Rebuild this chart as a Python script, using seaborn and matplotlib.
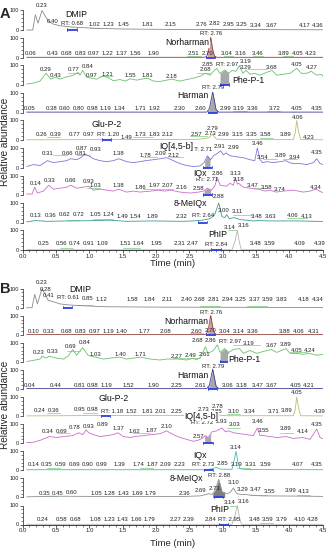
import numpy as np
import pandas as pd
import matplotlib
matplotlib.use("Agg")
import matplotlib.pyplot as plt
import seaborn as sns
from matplotlib.ticker import FixedLocator, MultipleLocator

sns.set_theme(style="ticks")
plt.rcParams["font.family"] = ["Liberation Sans", "DejaVu Sans"]

# ---------------- DATA ----------------
compounds = ["DMIP", "Norharman", "Phe-P-1", "Harman", "Glu-P-2",
             "IQ[4,5-b]", "IQx", "8-MeIQx", "PhIP"]
x_ticks = [0.0, 0.5, 1.0, 1.5, 2.0, 2.5, 3.0, 3.5, 4.0, 4.5]

# ---- Panel A ----
a1_trace = [(0.0, 0), (0.09, 0), (0.13, 78), (0.17, 35), (0.23, 100), (0.28, 70), (0.33, 45), (0.40, 30),
            (0.5, 22), (0.68, 15), (0.85, 12), (1.02, 9), (1.23, 7), (1.45, 5), (1.81, 4), (2.15, 3),
            (2.8, 3), (3.3, 2), (4.5, 1)]
a1_peaks = [(0.23, 124), (0.40, 43), (1.02, 27), (1.23, 26), (1.45, 26), (1.81, 26), (2.15, 26),
            (2.76, 30), (2.82, 31), (2.95, 28), (3.25, 27), (3.34, 25), (3.67, 25), (4.17, 24), (4.36, 24)]
a1_rt = (0.68, 31)
a1_green = [(0.95, 1.12, 8), (2.6, 2.85, 6), (2.9, 3.25, 6), (3.3, 3.62, 6)]

a2_trace = [(0.0, 1), (2.66, 1), (2.70, 5), (2.73, 40), (2.76, 103), (2.79, 40), (2.82, 5), (2.86, 1), (4.5, 1)]
a2_peaks = [(0.06, 20), (0.43, 20), (0.68, 20), (0.83, 20), (0.97, 20), (1.22, 20), (1.37, 20), (1.56, 20),
            (1.90, 20), (2.51, 20), (2.70, 20), (3.04, 20), (3.16, 20), (3.46, 20), (3.89, 20), (4.05, 20), (4.23, 20)]
a2_rt = (2.76, 123)
a2_green = [(2.40, 2.62, 9), (2.96, 3.10, 6), (3.40, 3.55, 6), (3.85, 4.0, 6)]

a3_trace = [(0.0, 5), (0.1, 10), (0.2, 20), (0.29, 60), (0.36, 30), (0.43, 40), (0.5, 30), (0.6, 42), (0.7, 50),
            (0.77, 65), (0.80, 50), (0.84, 75), (0.9, 40), (0.97, 35), (1.05, 30), (1.13, 45), (1.21, 40),
            (1.3, 22), (1.4, 28), (1.48, 20), (1.55, 32), (1.65, 25), (1.72, 30), (1.81, 35), (1.9, 20),
            (2.0, 18), (2.1, 25), (2.18, 30), (2.3, 20), (2.4, 28), (2.5, 35), (2.6, 45), (2.68, 60),
            (2.75, 50), (2.8, 70), (2.85, 85), (2.9, 60), (2.97, 78), (3.03, 60), (3.08, 75), (3.14, 70),
            (3.19, 100), (3.24, 60), (3.29, 75), (3.35, 55), (3.42, 60), (3.5, 50), (3.6, 65), (3.68, 75),
            (3.75, 50), (3.85, 55), (3.95, 60), (4.05, 85), (4.12, 60), (4.2, 60), (4.27, 70), (4.35, 50),
            (4.42, 55), (4.5, 20)]
a3_peaks = [(0.29, 77), (0.43, 51), (0.77, 82), (0.84, 94), (0.97, 51), (1.21, 55), (1.55, 48), (1.81, 51),
            (2.18, 46), (2.68, 77), (2.85, 103), (3.19, 119), (3.29, 91), (3.68, 91), (4.05, 103), (4.27, 88)]
a3_rt = (2.97, 103)
a3_green = [(0.62, 0.78, 62), (1.1, 1.3, 48), (2.55, 2.75, 60), (3.3, 3.6, 80)]

a4_trace = [(0.0, 2), (2.70, 2), (2.74, 20), (2.77, 70), (2.79, 105), (2.81, 70), (2.84, 15), (2.88, 2), (4.5, 2)]
a4_peaks = [(0.05, 22), (0.38, 22), (0.60, 22), (0.80, 22), (0.98, 22), (1.19, 22), (1.34, 22), (1.71, 22),
            (1.92, 22), (2.30, 22), (2.60, 22), (2.99, 22), (3.19, 22), (3.36, 22), (3.72, 22), (4.05, 22), (4.35, 22)]
a4_rt = (2.79, 130)
a4_green = [(3.1, 3.3, 6), (3.6, 3.8, 6)]

a5_trace = [(0.0, 1), (1.0, 2), (2.55, 3), (2.68, 8), (2.73, 12), (2.79, 30), (2.84, 5), (3.0, 2), (4.0, 2),
            (4.03, 40), (4.05, 100), (4.08, 40), (4.11, 2), (4.5, 1)]
a5_peaks = [(0.26, 26), (0.39, 26), (0.77, 26), (0.97, 26), (1.49, 12), (1.73, 26), (1.83, 26), (2.12, 26),
            (2.57, 26), (2.73, 34), (2.79, 60), (2.99, 26), (3.15, 26), (3.35, 26), (3.58, 26), (3.89, 26),
            (4.06, 116), (4.23, 12)]
a5_rt = (1.20, 26)
a5_green = [(0.3, 0.5, 14), (1.6, 1.9, 14), (2.45, 2.7, 18), (3.5, 3.7, 10)]

a6_trace = [(0.0, 5), (0.1, 15), (0.2, 10), (0.31, 35), (0.4, 25), (0.5, 30), (0.6, 35), (0.66, 45), (0.75, 40),
            (0.81, 50), (0.87, 70), (0.93, 60), (1.0, 45), (1.1, 35), (1.2, 30), (1.3, 35), (1.38, 45),
            (1.5, 30), (1.6, 25), (1.7, 30), (1.78, 35), (1.9, 40), (2.0, 45), (2.09, 50), (2.12, 48),
            (2.2, 35), (2.3, 20), (2.4, 10), (2.5, 5), (2.6, 8), (2.66, 25), (2.71, 60), (2.76, 40),
            (2.8, 60), (2.85, 70), (2.91, 85), (2.95, 65), (2.99, 75), (3.05, 60), (3.15, 55), (3.25, 50),
            (3.35, 40), (3.42, 35), (3.46, 100), (3.5, 40), (3.54, 25), (3.6, 30), (3.7, 25), (3.8, 30),
            (3.89, 35), (3.94, 25), (4.0, 20), (4.1, 20), (4.2, 15), (4.3, 25), (4.35, 45), (4.4, 20), (4.5, 10)]
a6_peaks = [(0.31, 72), (0.66, 72), (0.81, 74), (0.87, 98), (0.93, 90), (1.38, 74), (1.78, 64), (2.09, 74),
            (2.12, 64), (2.91, 110), (2.99, 102), (3.46, 124), (3.54, 50), (3.89, 64), (3.94, 50), (4.35, 76)]
a6_rt = (2.71, 94)
a6_green = [(0.4, 0.6, 62), (0.75, 0.95, 62), (1.75, 1.95, 55), (2.15, 2.35, 55), (3.55, 3.75, 42), (3.85, 4.05, 42)]

a7_trace = [(0.0, 5), (0.08, 5), (0.12, 40), (0.16, 10), (0.25, 20), (0.33, 50), (0.4, 30), (0.5, 35), (0.6, 40),
            (0.66, 50), (0.75, 35), (0.85, 40), (0.93, 45), (1.0, 25), (1.1, 30), (1.2, 25), (1.3, 20),
            (1.38, 30), (1.5, 15), (1.6, 20), (1.7, 15), (1.86, 20), (1.97, 25), (2.07, 20), (2.16, 25),
            (2.3, 15), (2.45, 10), (2.58, 15), (2.65, 20), (2.71, 35), (2.77, 25), (2.82, 45), (2.86, 90),
            (2.9, 50), (3.0, 45), (3.05, 60), (3.1, 50), (3.13, 90), (3.16, 55), (3.18, 60), (3.25, 40),
            (3.35, 35), (3.47, 30), (3.58, 20), (3.65, 25), (3.74, 15), (3.85, 20), (4.0, 25), (4.15, 15),
            (4.25, 20), (4.34, 30), (4.42, 15), (4.5, 10)]
a7_peaks = [(0.14, 57), (0.33, 73), (0.66, 75), (0.93, 70), (1.03, 47), (1.38, 47), (1.86, 40), (1.97, 47),
            (2.07, 47), (2.16, 40), (2.58, 35), (2.86, 112), (3.13, 112), (3.18, 78), (3.47, 47), (3.58, 40),
            (3.74, 30), (4.34, 40)]
a7_rt = (2.71, 78)
a7_green = [(0.9, 1.1, 36), (1.75, 2.2, 32), (3.4, 3.6, 36)]

a8_trace = [(0.0, 3), (0.13, 10), (0.3, 6), (0.62, 8), (0.72, 8), (1.05, 10), (1.24, 12), (1.5, 6), (1.89, 8),
            (2.32, 6), (2.5, 8), (2.64, 12), (2.75, 20), (2.82, 40), (2.88, 100), (2.93, 30), (2.97, 25),
            (3.00, 40), (3.04, 20), (3.11, 25), (3.2, 15), (3.4, 8), (3.48, 10), (3.63, 8), (4.06, 8), (4.5, 5)]
a8_peaks = [(0.13, 38), (0.36, 38), (0.62, 40), (0.72, 40), (1.05, 42), (1.24, 42), (1.49, 32), (1.54, 30),
            (1.89, 30), (2.32, 32), (2.88, 131), (3.00, 60), (3.11, 58), (3.48, 32), (3.63, 30), (4.06, 38), (4.13, 32)]
a8_rt = (2.64, 38)
a8_green = [(0.6, 0.8, 14), (1.0, 1.3, 16), (3.1, 3.4, 40), (3.9, 4.2, 22)]

a9_trace = [(0.0, 1), (3.08, 1), (3.12, 40), (3.16, 100), (3.19, 40), (3.22, 1), (4.5, 1)]
a9_peaks = [(0.25, 31), (0.56, 31), (0.74, 31), (0.91, 31), (1.09, 31), (1.51, 31), (1.64, 31), (1.95, 31),
            (2.31, 31), (2.47, 31), (3.14, 114), (3.16, 128), (3.48, 31), (3.59, 31), (4.09, 31), (4.39, 31)]
a9_rt = (2.84, 28)
a9_green = [(3.02, 3.16, 100), (0.5, 0.7, 10), (1.45, 1.7, 10)]

# ---- Panel B ----
b1_trace = [(0.0, 0), (0.08, 0), (0.12, 70), (0.16, 20), (0.23, 100), (0.28, 70), (0.32, 40), (0.41, 30),
            (0.5, 20), (0.61, 15), (0.85, 10), (1.2, 5), (2.0, 3), (4.5, 1)]
b1_peaks = [(0.23, 130), (0.28, 98), (0.41, 63), (0.85, 50), (1.12, 42), (1.58, 45), (1.84, 45), (2.11, 45),
            (2.40, 45), (2.68, 45), (2.81, 45), (2.94, 45), (3.25, 45), (3.37, 45), (3.59, 45), (3.83, 45),
            (4.18, 45), (4.34, 45)]
b1_rt = (0.61, 54)
b1_green = [(0.75, 1.0, 12), (2.6, 2.9, 10), (3.3, 3.6, 8)]

b2_trace = [(0.0, 1), (2.66, 1), (2.70, 5), (2.73, 40), (2.76, 102), (2.79, 40), (2.82, 5), (2.86, 1), (4.5, 1)]
b2_peaks = [(0.10, 17), (0.33, 17), (0.68, 17), (0.83, 17), (0.97, 17), (1.19, 17), (1.40, 17), (1.77, 17),
            (2.08, 17), (2.60, 17), (2.70, 20), (3.04, 17), (3.14, 17), (3.36, 17), (3.88, 17), (4.06, 17), (4.31, 17)]
b2_rt = (2.76, 117)
b2_green = [(2.45, 2.65, 8), (3.0, 3.2, 6), (3.8, 4.0, 6)]

b3_trace = [(0.0, 2), (0.1, 8), (0.2, 15), (0.23, 30), (0.3, 20), (0.33, 30), (0.45, 20), (0.55, 15), (0.62, 30),
            (0.69, 65), (0.75, 35), (0.84, 75), (0.92, 35), (1.03, 25), (1.15, 15), (1.25, 20), (1.40, 25),
            (1.5, 15), (1.6, 20), (1.71, 25), (1.85, 15), (2.0, 10), (2.1, 15), (2.27, 15), (2.4, 10),
            (2.49, 18), (2.55, 12), (2.61, 25), (2.68, 80), (2.72, 45), (2.8, 60), (2.86, 90), (2.9, 50),
            (2.97, 70), (3.03, 50), (3.1, 65), (3.19, 70), (3.25, 45), (3.35, 60), (3.45, 45), (3.55, 55),
            (3.67, 65), (3.75, 50), (3.89, 70), (3.95, 45), (4.05, 45), (4.15, 40), (4.24, 45), (4.35, 35),
            (4.45, 40), (4.5, 30)]
b3_peaks = [(0.23, 52), (0.33, 55), (0.69, 83), (0.84, 100), (1.03, 41), (1.40, 38), (1.71, 41), (2.27, 28),
            (2.49, 33), (2.61, 38), (2.68, 111), (2.86, 115), (3.19, 96), (3.67, 86), (3.89, 92), (4.05, 59), (4.24, 60)]
b3_rt = (2.97, 105)
b3_green = [(0.6, 0.8, 60), (2.2, 2.6, 22), (3.1, 3.5, 90), (3.95, 4.2, 50)]

b4_trace = [(0.0, 2), (2.70, 2), (2.74, 20), (2.77, 70), (2.79, 105), (2.81, 70), (2.84, 15), (2.88, 2), (4.5, 2)]
b4_peaks = [(0.04, 17), (0.44, 17), (0.81, 17), (0.98, 17), (1.19, 17), (1.52, 17), (1.90, 17), (2.25, 17),
            (2.61, 17), (3.06, 17), (3.18, 17), (3.47, 17), (3.67, 17), (4.05, 17), (4.21, 17)]
b4_rt = (2.79, 120)
b4_green = [(3.1, 3.3, 6), (3.95, 4.15, 6)]

b5_trace = [(0.0, 1), (1.0, 3), (2.6, 3), (2.7, 10), (2.78, 25), (2.84, 6), (3.0, 2), (4.0, 2), (4.03, 40),
            (4.05, 100), (4.08, 40), (4.11, 2), (4.5, 1)]
b5_peaks = [(0.24, 29), (0.36, 29), (0.95, 34), (0.98, 37), (1.52, 24), (1.81, 26), (2.01, 26), (2.25, 26),
            (2.73, 34), (2.78, 48), (2.85, 26), (3.10, 26), (3.34, 26), (3.71, 26), (3.89, 29), (4.05, 125), (4.39, 22)]
b5_rt = (1.18, 26)
b5_green = [(0.3, 0.5, 16), (0.85, 1.05, 18), (2.6, 2.75, 20), (3.0, 3.2, 12)]

b6_trace = [(0.0, 3), (0.1, 5), (0.2, 15), (0.34, 35), (0.45, 30), (0.55, 35), (0.69, 40), (0.78, 55), (0.84, 45),
            (0.89, 70), (0.93, 55), (1.0, 45), (1.1, 35), (1.2, 40), (1.3, 45), (1.37, 55), (1.45, 35),
            (1.55, 30), (1.62, 35), (1.75, 40), (1.87, 45), (2.0, 50), (2.10, 65), (2.2, 45), (2.3, 30),
            (2.4, 20), (2.5, 10), (2.57, 15), (2.63, 25), (2.68, 40), (2.72, 30), (2.78, 60), (2.85, 65),
            (2.93, 80), (2.98, 60), (3.03, 65), (3.1, 55), (3.2, 50), (3.3, 45), (3.4, 40), (3.46, 80),
            (3.5, 40), (3.55, 40), (3.65, 35), (3.75, 30), (3.89, 35), (4.0, 25), (4.14, 30), (4.25, 20),
            (4.35, 75), (4.4, 30), (4.5, 15)]
b6_peaks = [(0.34, 61), (0.69, 63), (0.78, 82), (0.89, 100), (0.93, 87), (1.37, 75), (1.62, 63), (1.87, 68),
            (2.10, 87), (2.57, 35), (2.93, 112), (3.03, 100), (3.46, 113), (3.55, 68), (3.89, 75), (4.14, 63), (4.35, 100)]
b6_rt = (2.72, 108)
b6_green = [(0.45, 0.65, 55), (1.6, 1.85, 55), (3.0, 3.2, 80), (3.8, 4.0, 55)]

b7_trace = [(0.0, 3), (2.7, 3), (2.78, 8), (2.85, 15), (2.9, 6), (3.08, 5), (3.11, 50), (3.14, 100), (3.17, 40),
            (3.2, 8), (3.3, 4), (4.5, 3)]
b7_peaks = [(0.14, 28), (0.35, 28), (0.59, 28), (0.69, 28), (0.90, 28), (0.99, 28), (1.39, 28), (1.74, 28),
            (1.87, 28), (2.09, 28), (2.23, 28), (2.85, 37), (3.14, 120), (3.19, 28), (3.31, 28), (3.59, 28),
            (4.07, 28), (4.35, 28)]
b7_rt = (2.73, 28)
b7_green = [(0.3, 0.5, 10), (1.7, 1.9, 10), (3.15, 3.35, 10)]

b8_trace = [(0.0, 3), (0.35, 6), (0.6, 6), (1.05, 5), (1.43, 5), (1.79, 5), (2.36, 5), (2.6, 8), (2.69, 15),
            (2.73, 20), (2.78, 15), (2.83, 40), (2.88, 95), (2.93, 30), (3.0, 20), (3.05, 25), (3.10, 50),
            (3.15, 20), (3.22, 15), (3.29, 15), (3.4, 10), (3.55, 8), (4.0, 7), (4.5, 5)]
b8_peaks = [(0.35, 22), (0.45, 22), (0.60, 24), (1.05, 22), (1.28, 22), (1.43, 22), (1.69, 22), (1.79, 22),
            (2.36, 22), (2.69, 37), (2.73, 49), (3.10, 79), (3.29, 40), (3.47, 40), (3.55, 30), (3.99, 37), (4.13, 30)]
b8_rt = (2.88, 115)
b8_green = [(0.25, 0.45, 10), (1.35, 1.55, 8), (3.35, 3.6, 14), (4.05, 4.25, 12)]

b9_trace = [(0.0, 1), (3.08, 1), (3.12, 40), (3.16, 100), (3.19, 40), (3.22, 1), (4.5, 1)]
b9_peaks = [(0.24, 25), (0.58, 25), (0.68, 25), (1.08, 25), (1.23, 25), (1.43, 25), (1.66, 25), (1.79, 25),
            (2.27, 25), (2.39, 25), (2.84, 25), (3.14, 117), (3.16, 120), (3.48, 25), (3.59, 25), (3.79, 25),
            (4.10, 25), (4.28, 25)]
b9_rt = (2.95, 25)
b9_green = [(3.02, 3.16, 100), (3.5, 3.7, 8)]

# ---------------- STYLE / LAYOUT ----------------
colors_a = ["#8a8a8a", "#9a3c3c", "#6cc06c", "#3c3c9c", "#bdbd70", "#7878dc", "#cc6ccc", "#3a9c9c", "#b4b4b4"]
colors_b = ["#8a8a8a", "#9a3c3c", "#6cc06c", "#3c3c9c", "#bdbd70", "#cc6ccc", "#3fbcbc", "#8f8f8f", "#b4b4b4"]
fillc_a = {1: "#c9a3a3", 2: "#a8a8a8", 3: "#a8a8a8", 5: "#a8a8a8", 6: "#a8a8a8"}
fillc_b = {1: "#c9a3a3", 2: "#a8a8a8", 3: "#a8a8a8", 5: "#a8a8a8", 7: "#7e7e7e"}
fill_a = {1: (2.71, 2.83), 2: (2.90, 3.03), 3: (2.73, 2.86), 5: (2.67, 2.75), 6: (2.66, 2.76)}
fill_b = {1: (2.71, 2.83), 2: (2.90, 3.03), 3: (2.73, 2.86), 5: (2.67, 2.76), 7: (2.79, 2.97)}
names_pos_a = [(0.81, 82), (2.47, 75), (3.38, 21), (2.56, 86), (1.26, 80), (2.31, 108), (2.66, 110), (2.51, 97), (2.93, 77)]
names_pos_b = [(0.86, 98), (2.45, 70), (3.33, 15), (2.56, 72), (1.36, 92), (2.68, 143), (2.66, 78), (2.45, 100), (2.96, 80)]

W_PX, H_PX = 334, 550
fig = plt.figure(figsize=(W_PX / 100, H_PX / 100), dpi=100)
SHIFT = 0.06
X0_PX, X1_PX = 22.7, 322.7
XMAX = 4.5
PXMIN = (X1_PX - X0_PX) / XMAX
LAB_FS = 4.3
NAME_FS = 6.3
YMIN = -8


def text_w(s):
    w = 0.0
    for ch in s:
        if ch in ".: ":
            w += 0.278
        elif ch in "RT":
            w += 0.65
        else:
            w += 0.556
    return w * LAB_FS * 100 / 72 / PXMIN  # minutes


def spread(items, band):
    gap = 2.0 / PXMIN
    for _ in range(300):
        moved = False
        for i in range(len(items)):
            for j in range(i + 1, len(items)):
                a, b = items[i], items[j]
                if abs(a["h"] - b["h"]) >= band:
                    continue
                need = (a["w"] + b["w"]) / 2 + gap
                d = b["x"] - a["x"]
                if abs(d) < need:
                    push = (need - abs(d)) / 2 + 1e-4
                    sgn = 1 if (d > 0 or (d == 0 and j > i)) else -1
                    a["x"] -= sgn * push
                    b["x"] += sgn * push
                    moved = True
        for it in items:
            it["x"] = min(max(it["x"], 0.02 + it["w"] / 2), 4.58 - it["w"] / 2)
        if not moved:
            break
    return items


def panel(traces, peaks, rts, greens, colors, fills, fillcols, name_pos, zero0, pitch, px100):
    ymax = YMIN + pitch / px100 * 100
    for k in range(9):
        zero_px = zero0 + pitch * k
        bottom_px = zero_px - YMIN * px100 / 100
        ax = fig.add_axes([X0_PX / W_PX, 1 - bottom_px / H_PX, (X1_PX - X0_PX) / W_PX, pitch / H_PX])
        ax.patch.set_visible(False)
        tt = np.array([p[0] for p in traces[k]]) + SHIFT
        yy = np.array([p[1] for p in traces[k]], dtype=float)
        df = pd.DataFrame({"t": tt, "y": yy})
        if k in fills:
            f0, f1 = fills[k]
            xs = np.linspace(f0 + SHIFT, f1 + SHIFT, 80)
            ax.fill_between(xs, 0, np.interp(xs, tt, yy), color=fillcols[k], lw=0, zorder=1)
        sns.lineplot(data=df, x="t", y="y", ax=ax, color=colors[k], lw=0.6,
                     estimator=None, sort=False, zorder=2)
        for (g0, g1, gh) in greens[k]:
            ax.plot([g0 + SHIFT, g1 + SHIFT], [gh, gh], color="#7ccf7c", lw=0.5, zorder=1.5)
        rt_t, rt_h = rts[k]
        bx0, bx1 = rt_t - 0.07 + SHIFT, rt_t + 0.07 + SHIFT
        ax.plot([bx0, bx1], [0, 0], color="#2f3fe0", lw=1.3, zorder=3, solid_capstyle="butt")
        ax.plot([bx0, bx0], [-5, 8], color="#2f3fe0", lw=0.6, zorder=3)
        ax.plot([bx1, bx1], [-5, 8], color="#2f3fe0", lw=0.6, zorder=3)
        items = [{"s": f"{t:.2f}", "x": t + SHIFT, "h": h} for (t, h) in peaks[k]]
        items.append({"s": f"RT: {rt_t:.2f}", "x": rt_t + SHIFT, "h": rt_h})
        for it in items:
            it["w"] = text_w(it["s"])
        spread(items, band=20)
        for it in items:
            ax.text(it["x"], it["h"], it["s"], fontsize=LAB_FS, ha="center", va="center",
                    color="#222222", clip_on=False, zorder=5)
        nx, nh = name_pos[k]
        ax.text(nx, nh, compounds[k], fontsize=NAME_FS, ha="center", va="center", color="#111111",
                clip_on=False, zorder=6,
                bbox=dict(boxstyle="square,pad=0.05", fc="white", ec="none"))
        ax.set_xlim(0, XMAX)
        ax.set_ylim(YMIN, ymax)
        ax.set_xlabel("")
        ax.set_ylabel("")
        ax.set_yticks([0, 100])
        ax.set_yticklabels(["0", "100"])
        ax.yaxis.set_minor_locator(FixedLocator([20, 40, 60, 80]))
        ax.tick_params(axis="y", which="major", labelsize=4.0, length=2, width=0.5, pad=0.8, colors="#222222")
        ax.tick_params(axis="y", which="minor", length=1.2, width=0.4, colors="#222222")
        for s in ["top", "right"]:
            ax.spines[s].set_visible(False)
        ax.spines["left"].set_bounds(0, 100)
        ax.spines["left"].set_linewidth(0.5)
        ax.spines["left"].set_color("#222222")
        if k == 8:
            ax.spines["bottom"].set_position(("data", 0))
            ax.spines["bottom"].set_linewidth(0.6)
            ax.spines["bottom"].set_color("#222222")
            ax.set_xticks(x_ticks)
            ax.set_xticklabels([f"{v:.1f}" for v in x_ticks])
            ax.xaxis.set_minor_locator(MultipleLocator(0.1))
            ax.tick_params(axis="x", which="major", labelsize=LAB_FS, length=2, width=0.5, pad=0.8,
                           colors="#222222")
            ax.tick_params(axis="x", which="minor", length=1.3, width=0.4, colors="#222222")
        else:
            ax.spines["bottom"].set_visible(False)
            ax.tick_params(axis="x", bottom=False, labelbottom=False)


panel([a1_trace, a2_trace, a3_trace, a4_trace, a5_trace, a6_trace, a7_trace, a8_trace, a9_trace],
      [a1_peaks, a2_peaks, a3_peaks, a4_peaks, a5_peaks, a6_peaks, a7_peaks, a8_peaks, a9_peaks],
      [a1_rt, a2_rt, a3_rt, a4_rt, a5_rt, a6_rt, a7_rt, a8_rt, a9_rt],
      [a1_green, a2_green, a3_green, a4_green, a5_green, a6_green, a7_green, a8_green, a9_green],
      colors_a, fill_a, fillc_a, names_pos_a, zero0=30.0, pitch=27.5, px100=19.5)

panel([b1_trace, b2_trace, b3_trace, b4_trace, b5_trace, b6_trace, b7_trace, b8_trace, b9_trace],
      [b1_peaks, b2_peaks, b3_peaks, b4_peaks, b5_peaks, b6_peaks, b7_peaks, b8_peaks, b9_peaks],
      [b1_rt, b2_rt, b3_rt, b4_rt, b5_rt, b6_rt, b7_rt, b8_rt, b9_rt],
      [b1_green, b2_green, b3_green, b4_green, b5_green, b6_green, b7_green, b8_green, b9_green],
      colors_b, fill_b, fillc_b, names_pos_b, zero0=307.7, pitch=27.1, px100=19.0)

fig.text(5 / W_PX, 1 - 14 / H_PX, "A", fontsize=10.5, fontweight="bold", ha="center", va="center")
fig.text(5 / W_PX, 1 - 289 / H_PX, "B", fontsize=10.5, fontweight="bold", ha="center", va="center")
fig.text(5.5 / W_PX, 1 - 142 / H_PX, "Relative abundance", rotation=90, fontsize=7.2, ha="center", va="center")
fig.text(5.5 / W_PX, 1 - 405 / H_PX, "Relative abundance", rotation=90, fontsize=7.2, ha="center", va="center")
fig.text(172.7 / W_PX, 1 - 263 / H_PX, "Time (min)", fontsize=6.8, ha="center", va="center")
fig.text(172.7 / W_PX, 1 - 543 / H_PX, "Time (min)", fontsize=6.8, ha="center", va="center")

fig.savefig("out.png", dpi=100, facecolor="white")
